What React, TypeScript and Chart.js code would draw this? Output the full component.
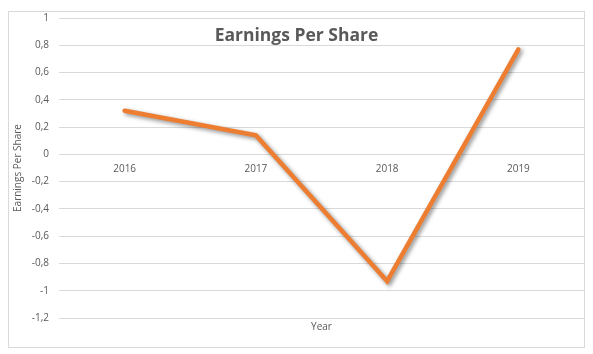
import React, { useEffect, useRef } from "react";
import { Chart, registerables } from "chart.js";

Chart.register(...registerables);

const years = ["2016", "2017", "2018", "2019"];
const eps = [0.32, 0.14, -0.93, 0.77];
const yMin = -1.2;
const yMax = 1;
const yStep = 0.2;

const titleText = "Earnings Per Share";
const yTitle = "Earnings Per Share";
const xTitle = "Year";

const FONT = "'Open Sans', sans-serif";
const TEXT = "#595959";
const GRID = "#D9D9D9";

const framePlugin = {
  id: "frame",
  beforeDraw(chart: any) {
    const ctx = chart.ctx;
    ctx.save();
    ctx.fillStyle = "#ffffff";
    ctx.fillRect(0, 0, chart.width, chart.height);
    ctx.strokeStyle = GRID;
    ctx.lineWidth = 1;
    ctx.strokeRect(0.5, 3.5, chart.width - 1, chart.height - 4);
    ctx.restore();
  },
  beforeDatasetsDraw(chart: any) {
    const ctx = chart.ctx;
    ctx.save();
    ctx.shadowColor = "rgba(0,0,0,0.45)";
    ctx.shadowBlur = 4;
    ctx.shadowOffsetX = 2;
    ctx.shadowOffsetY = 2;
  },
  afterDatasetsDraw(chart: any) {
    chart.ctx.restore();
  },
  afterDraw(chart: any) {
    const ctx = chart.ctx;
    ctx.save();
    ctx.fillStyle = TEXT;
    ctx.font = `bold 17.5px ${FONT}`;
    ctx.textAlign = "center";
    ctx.textBaseline = "alphabetic";
    ctx.fillText(titleText, chart.width / 2, 33);
    ctx.restore();
  },
};

export default function App() {
  const ref = useRef<HTMLCanvasElement>(null);
  useEffect(() => {
    if (!ref.current) return;
    const chart = new Chart(ref.current, {
      type: "line",
      data: {
        labels: years,
        datasets: [
          {
            label: "EPS",
            data: eps,
            borderColor: "#ED7D31",
            borderWidth: 4.5,
            pointRadius: 0,
            tension: 0,
            borderCapStyle: "round",
            borderJoinStyle: "miter",
            fill: false,
          },
        ],
      },
      options: {
        animation: false,
        responsive: false,
        devicePixelRatio: 1,
        layout: { padding: { left: 0, right: 1, top: 10, bottom: 10 } },
        plugins: {
          legend: { display: false },
          tooltip: { enabled: false },
          title: { display: false },
        },
        scales: {
          x: {
            type: "category",
            position: { y: 0 } as any,
            offset: true,
            grid: { display: false, drawTicks: false },
            border: { display: false },
            ticks: {
              color: TEXT,
              font: { family: FONT, size: 10 },
              padding: 9,
              maxRotation: 0,
              autoSkip: false,
            },
            afterFit(scale: any) {
              scale.height = 0;
              scale.paddingLeft = 0;
              scale.paddingRight = 0;
              scale.paddingTop = 0;
              scale.paddingBottom = 0;
            },
          },
          x2: {
            type: "category",
            position: "bottom",
            labels: years,
            offset: true,
            grid: { display: false, drawTicks: false },
            border: { display: false },
            ticks: { display: false },
            title: {
              display: true,
              text: xTitle,
              color: TEXT,
              font: { family: FONT, size: 10 },
              padding: { top: 3, bottom: 5 },
            },
            afterFit(scale: any) {
              scale.height = 20;
              scale.paddingLeft = 0;
              scale.paddingRight = 0;
              scale.paddingTop = 0;
              scale.paddingBottom = 0;
            },
          },
          y: {
            type: "linear",
            min: yMin,
            max: yMax,
            grid: { color: GRID, lineWidth: 1, drawTicks: false },
            border: { display: false },
            ticks: {
              stepSize: yStep,
              color: TEXT,
              font: { family: FONT, size: 10 },
              padding: 10,
              callback: (v: any) => String(Math.round(Number(v) * 10) / 10).replace(".", ","),
            },
            title: {
              display: true,
              text: yTitle,
              color: TEXT,
              font: { family: FONT, size: 10 },
              padding: { top: 4, bottom: 0 },
            },
            afterFit(scale: any) {
              scale.width = 51;
              scale.paddingTop = 0;
              scale.paddingBottom = 0;
              scale.paddingLeft = 0;
              scale.paddingRight = 0;
            },
          },
        },
      },
      plugins: [framePlugin],
    });
    return () => chart.destroy();
  }, []);
  return (
    <div style={{ width: 577, height: 340 }}>
      <canvas ref={ref} width={577} height={340} style={{ display: "block" }} />
    </div>
  );
}
